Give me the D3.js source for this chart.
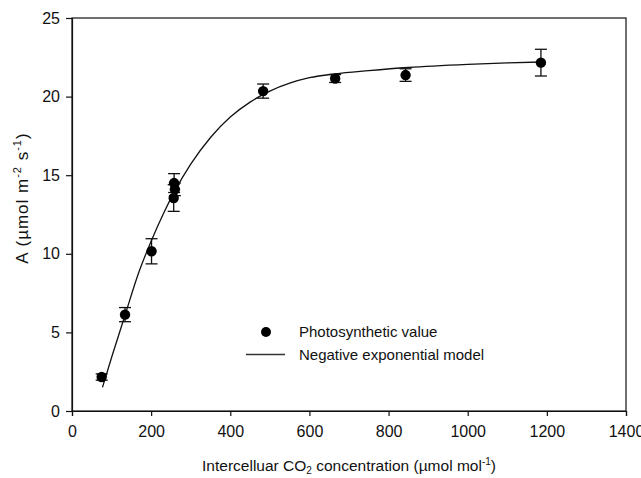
<!DOCTYPE html>
<html><head><meta charset="utf-8">
<script src="https://cdn.jsdelivr.net/npm/d3@7"></script>
<style>body{margin:0;background:#fff}svg{display:block}text{font-family:"Liberation Sans",Arial,sans-serif;fill:#111}</style>
</head><body><svg id="c" width="641" height="478"></svg>
<script>
// Observed photosynthetic values
const ciValues = [75, 134, 201, 258, 260, 257, 483, 665, 843, 1185];
const aValues = [2.16, 6.13, 10.16, 14.5, 14.1, 13.55, 20.35, 21.15, 21.37, 22.16];
const aErrors = [0.2, 0.45, 0.8, 0.6, 0.4, 0.85, 0.45, 0.25, 0.4, 0.85];
// Negative exponential model line
const modelCi = [77, 100, 134, 170, 200, 230, 260, 300, 350, 400, 450, 500, 550, 600, 665, 750, 850, 1000, 1100, 1185];
const modelA = [1.5, 3.4, 6.1, 8.9, 10.8, 12.5, 14.0, 15.7, 17.4, 18.7, 19.65, 20.35, 20.85, 21.2, 21.45, 21.65, 21.85, 22.05, 22.15, 22.2];
const xTicks = [0, 200, 400, 600, 800, 1000, 1200, 1400];
const yTicks = [0, 5, 10, 15, 20, 25];

const svg = d3.select("#c");
const L = 72, R = 626, T = 18, B = 411;
const x = d3.scaleLinear().domain([0, 1400]).range([L, R]);
const y = d3.scaleLinear().domain([0, 25]).range([B, T]);

// frame
svg.append("rect").attr("x", L).attr("y", T).attr("width", R - L).attr("height", B - T)
  .attr("fill", "none").attr("stroke", "#111").attr("stroke-width", 1.2);

const xa = svg.append("g").attr("transform", `translate(0,${B})`)
  .call(d3.axisBottom(x).tickValues(xTicks).tickFormat(d3.format("d")).tickSize(5).tickPadding(10));
const ya = svg.append("g").attr("transform", `translate(${L},0)`)
  .call(d3.axisLeft(y).tickValues(yTicks).tickSize(6).tickPadding(6));
[xa, ya].forEach(g => {
  g.select(".domain").attr("stroke", "#111").attr("stroke-width", 1.2);
  g.selectAll(".tick line").attr("stroke", "#111").attr("stroke-width", 1.2);
  g.selectAll(".tick text").style("font-size", "16px").attr("fill", "#111")
    .style("font-family", '"Liberation Sans",Arial,sans-serif');
});

// model line
const pts = modelCi.map((c, i) => [c, modelA[i]]);
svg.append("path").datum(pts)
  .attr("d", d3.line().x(d => x(d[0])).y(d => y(d[1])).curve(d3.curveMonotoneX))
  .attr("fill", "none").attr("stroke", "#111").attr("stroke-width", 1.3);

// error bars and points
const data = ciValues.map((c, i) => ({ c, a: aValues[i], e: aErrors[i] }));
const eb = svg.append("g").attr("stroke", "#111").attr("stroke-width", 1.3);
data.forEach(d => {
  const cx = x(d.c);
  eb.append("line").attr("x1", cx).attr("x2", cx).attr("y1", y(d.a - d.e)).attr("y2", y(d.a + d.e));
  eb.append("line").attr("x1", cx - 6).attr("x2", cx + 6).attr("y1", y(d.a - d.e)).attr("y2", y(d.a - d.e));
  eb.append("line").attr("x1", cx - 6).attr("x2", cx + 6).attr("y1", y(d.a + d.e)).attr("y2", y(d.a + d.e));
});
svg.append("g").selectAll("circle").data(data).join("circle")
  .attr("cx", d => x(d.c)).attr("cy", d => y(d.a)).attr("r", 5.2).attr("fill", "#000");

// legend
const lg = svg.append("g");
lg.append("circle").attr("cx", 266).attr("cy", 332).attr("r", 5).attr("fill", "#000");
lg.append("text").attr("x", 299).attr("y", 332).attr("dy", "0.35em").style("font-size", "15px").text("Photosynthetic value");
lg.append("line").attr("x1", 246).attr("x2", 285).attr("y1", 354.5).attr("y2", 354.5).attr("stroke", "#333").attr("stroke-width", 1.5);
lg.append("text").attr("x", 299).attr("y", 354.5).attr("dy", "0.35em").style("font-size", "15px").text("Negative exponential model");

// axis titles
const xt = svg.append("text").attr("x", (L + R) / 2).attr("y", 471).attr("text-anchor", "middle").style("font-size", "15.5px");
xt.append("tspan").text("Intercelluar CO");
xt.append("tspan").attr("dy", 3).style("font-size", "10px").text("2");
xt.append("tspan").attr("dy", -3).text(" concentration (µmol mol");
xt.append("tspan").attr("dy", -6).style("font-size", "10px").text("-1");
xt.append("tspan").attr("dy", 6).text(")");

const yt = svg.append("text").attr("transform", "translate(28,198) rotate(-90)").attr("text-anchor", "middle")
  .style("font-size", "17px").style("letter-spacing", "1px");
yt.append("tspan").text("A (µmol m");
yt.append("tspan").attr("dy", -7).style("font-size", "11px").text("-2");
yt.append("tspan").attr("dy", 7).text(" s");
yt.append("tspan").attr("dy", -7).style("font-size", "11px").text("-1");
yt.append("tspan").attr("dy", 7).text(")");
</script></body></html>
